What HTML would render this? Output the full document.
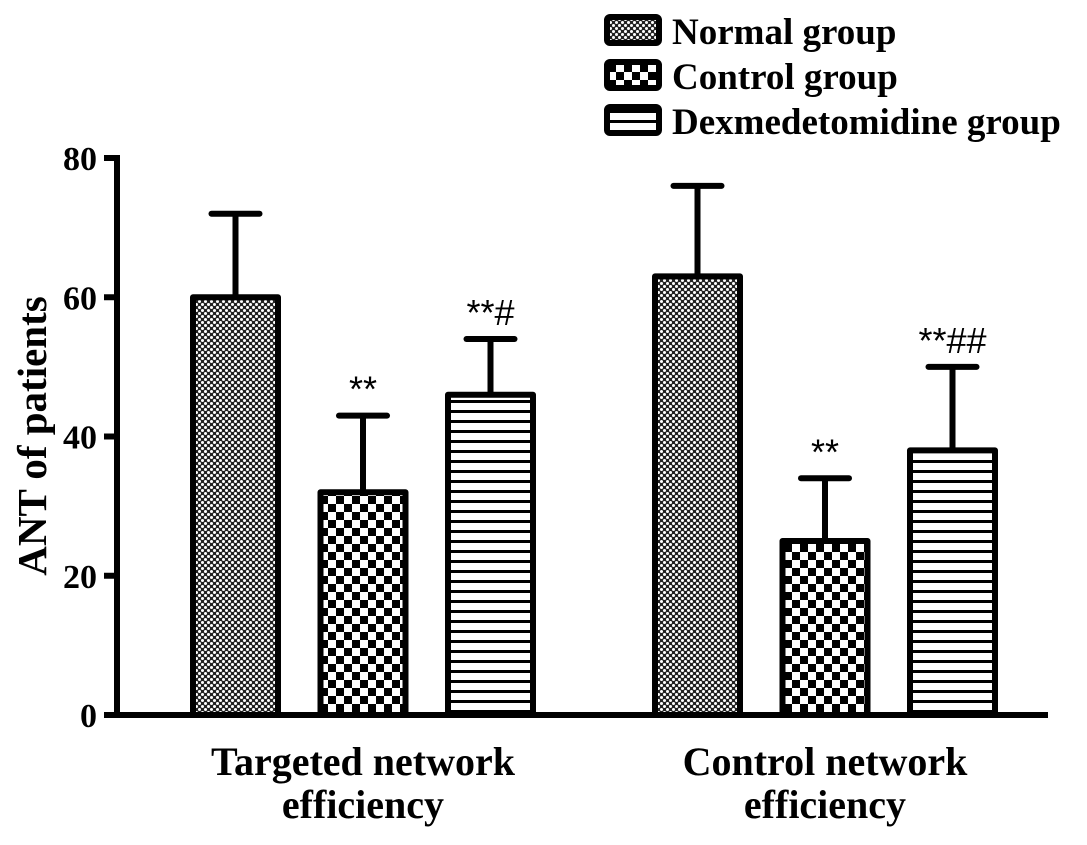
<!DOCTYPE html>
<html><head><meta charset="utf-8"><style>
body{margin:0;background:#fff}
svg text{font-family:"Liberation Serif",serif;font-weight:bold;fill:#000}
</style></head><body>
<svg width="1087" height="840">
<defs>
<pattern id="pDots" width="6" height="6" patternUnits="userSpaceOnUse"><rect width="6" height="6" fill="#222"/><circle cx="1.5" cy="1.5" r="1.5" fill="#fff"/><circle cx="4.5" cy="4.5" r="1.5" fill="#fff"/></pattern>
<pattern id="pCheck" width="16" height="16" patternUnits="userSpaceOnUse"><rect width="16" height="16" fill="#fff"/><rect width="8" height="8" fill="#000"/><rect x="8" y="8" width="8" height="8" fill="#000"/></pattern>
<pattern id="pLines" width="10" height="10" patternUnits="userSpaceOnUse"><rect width="10" height="10" fill="#fff"/><rect y="0" width="10" height="3" fill="#000"/></pattern>
</defs>
<g id="plot"></g>
</svg>
<script>
const categories=["Targeted network efficiency","Control network efficiency"];
const seriesNames=["Normal group","Control group","Dexmedetomidine group"];
const normalVals=[60,63];
const controlVals=[32,25];
const dexVals=[46,38];
const normalErr=[12,13];
const controlErr=[11,9];
const dexErr=[8,12];
const controlSig=["**","**"];
const dexSig=["**#","**##"];
const yTicks=[0,20,40,60,80];

const NS="http://www.w3.org/2000/svg";
const g=document.getElementById('plot');
function y(v){return 715-(v/80)*557;}
const groupStart=[193,655], step=127.5, bw=85;
function x(gi,si){return groupStart[gi]+si*step;}
function mk(t,a){const e=document.createElementNS(NS,t);for(const k in a)e.setAttribute(k,a[k]);g.appendChild(e);return e;}
const fills=["url(#pDots)","url(#pCheck)","url(#pLines)"];
const vals=[normalVals,controlVals,dexVals], errs=[normalErr,controlErr,dexErr];
const sigs=[null,controlSig,dexSig];
for(let gi=0;gi<categories.length;gi++){
  for(let si=0;si<3;si++){
    const v=vals[si][gi], e=errs[si][gi], bx=x(gi,si), cx=bx+bw/2;
    const l=mk('line',{x1:cx,x2:cx,y1:y(v),y2:y(v+e),stroke:'#000','stroke-width':6});
    
    
    const c=mk('line',{x1:cx-24,x2:cx+24,y1:y(v+e),y2:y(v+e),stroke:'#000','stroke-width':6,'stroke-linecap':'round'});
    
    
    const r=mk('rect',{x:bx,y:y(v),width:bw,height:y(0)-y(v),fill:fills[si],stroke:'#000','stroke-width':6,'stroke-linejoin':'round'});
    
    
    if(sigs[si]){
      const t=mk('text',{x:cx,y:y(v+e)-14,'text-anchor':'middle','font-size':36});
      t.style.fontFamily='"Liberation Sans",sans-serif';t.style.fontWeight='normal';
      t.textContent=sigs[si][gi];
      
      
    }
  }
  const cx=x(gi,1)+bw/2;
  const words=categories[gi].split(' ');
  const t1=mk('text',{x:cx,y:775,'text-anchor':'middle','font-size':40});
  t1.textContent=words.slice(0,2).join(' ');
  
  
  const t2=mk('text',{x:cx,y:818,'text-anchor':'middle','font-size':40});
  t2.textContent=words.slice(2).join(' ');
  
  
}
const ya=mk('line',{x1:117,x2:117,y1:y(80)-3,y2:y(0)+3,stroke:'#000','stroke-width':6});


const xa=mk('line',{x1:114,x2:1048,y1:y(0),y2:y(0),stroke:'#000','stroke-width':6});


yTicks.forEach(v=>{
  const tk=mk('line',{x1:104,x2:117,y1:y(v),y2:y(v),stroke:'#000','stroke-width':6});
  
  
  const t=mk('text',{x:97,y:y(v)+12,'text-anchor':'end','font-size':34});
  t.textContent=v;
  
  
});
const yt=mk('text',{x:0,y:0,'text-anchor':'middle','font-size':41,transform:'translate(46,436) rotate(-90)'});
yt.textContent='ANT of patients';


seriesNames.forEach((n,i)=>{
  const ly=17+i*45;
  const r=mk('rect',{x:607,y:ly,width:52,height:26,fill:fills[i],stroke:'#000','stroke-width':6,rx:3});
  
  
  const t=mk('text',{x:672,y:ly+27,'font-size':37});
  t.textContent=n;
  
  
});
</script>
</body></html>
